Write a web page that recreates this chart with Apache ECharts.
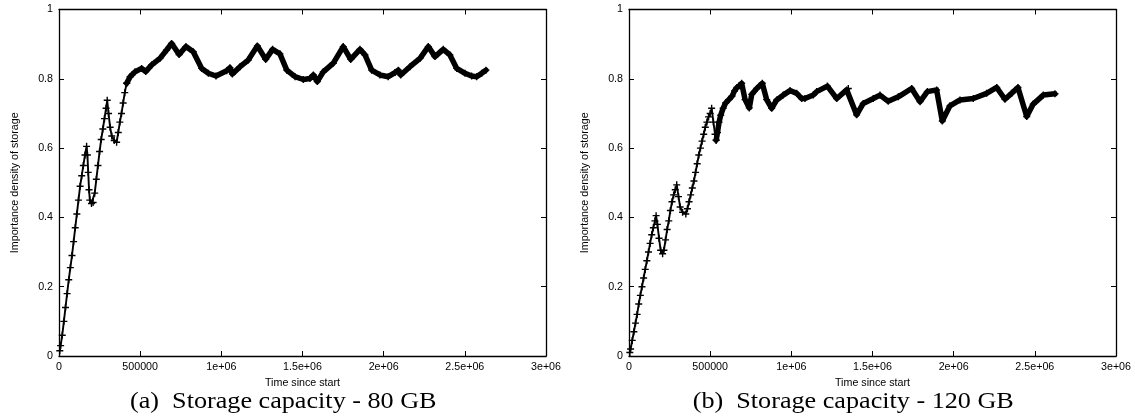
<!DOCTYPE html>
<html>
<head>
<meta charset="utf-8">
<script src="https://cdn.jsdelivr.net/npm/echarts@6/dist/echarts.min.js"></script>
<style>
html,body{margin:0;padding:0;background:#fff;}
#chart{width:1135px;height:417px;}
</style>
</head>
<body>
<div id="chart"></div>
<script>
// ---- data ----
const xTickLabels = ['0','500000','1e+06','1.5e+06','2e+06','2.5e+06','3e+06'];
const yTickLabels = ['0','0.2','0.4','0.6','0.8','1'];
const xAxisName = 'Time since start';
const yAxisName = 'Importance density of storage';
const captionA = '(a)  Storage capacity - 80 GB';
const captionB = '(b)  Storage capacity - 120 GB';

// (a) 80 GB
const timeA = [5000,10000,20000,30000,40000,50000,60000,70000,80000,90000,100000,110000,120000,130000,140000,150000,160000,170000,175000,180000,185000,190000,200000,210000,220000,230000,240000,250000,260000,270000,280000,290000,297000,305000,315000,325000,340000,355000,365000,375000,385000,395000,405000,417000,438000,468000,509000,534000,571000,622000,663000,694000,740000,782000,827000,879000,920000,967000,1033000,1053000,1068000,1115000,1166000,1222000,1273000,1316000,1361000,1403000,1454000,1505000,1546000,1567000,1591000,1628000,1690000,1751000,1797000,1854000,1885000,1926000,1977000,2028000,2070000,2090000,2105000,2162000,2224000,2275000,2316000,2367000,2408000,2450000,2501000,2542000,2573000,2604000,2630000];
const densityA = [0.015,0.03,0.06,0.10,0.14,0.18,0.22,0.255,0.29,0.33,0.37,0.41,0.45,0.49,0.52,0.55,0.58,0.605,0.58,0.53,0.48,0.45,0.44,0.443,0.47,0.51,0.55,0.59,0.625,0.655,0.685,0.715,0.738,0.70,0.66,0.635,0.622,0.617,0.645,0.675,0.70,0.73,0.76,0.787,0.806,0.82,0.83,0.821,0.84,0.859,0.883,0.902,0.87,0.893,0.878,0.83,0.816,0.808,0.823,0.832,0.814,0.835,0.854,0.895,0.856,0.885,0.872,0.825,0.806,0.798,0.801,0.811,0.792,0.82,0.845,0.893,0.856,0.885,0.869,0.825,0.811,0.806,0.818,0.825,0.811,0.835,0.859,0.893,0.864,0.885,0.869,0.83,0.816,0.808,0.806,0.816,0.825];

// (b) 120 GB
const timeB = [5000,10000,20000,30000,40000,50000,60000,70000,80000,90000,100000,110000,120000,130000,140000,150000,160000,167000,175000,185000,195000,207000,215000,225000,235000,245000,255000,265000,275000,285000,294000,305000,315000,330000,350000,360000,370000,380000,390000,400000,410000,420000,430000,440000,450000,460000,470000,480000,490000,500000,509000,520000,530000,537000,545000,555000,565000,580000,595000,615000,635000,650000,665000,680000,694000,715000,741000,756000,787000,821000,848000,879000,910000,950000,992000,1033000,1064000,1084000,1135000,1156000,1222000,1280000,1341000,1351000,1402000,1443000,1505000,1546000,1597000,1659000,1741000,1793000,1838000,1895000,1930000,1977000,2039000,2121000,2203000,2265000,2316000,2357000,2396000,2450000,2490000,2552000,2624000];
const densityB = [0.01,0.02,0.045,0.07,0.095,0.12,0.15,0.175,0.20,0.225,0.25,0.275,0.30,0.325,0.35,0.37,0.39,0.405,0.38,0.34,0.305,0.295,0.305,0.335,0.365,0.39,0.42,0.445,0.465,0.48,0.494,0.46,0.43,0.415,0.41,0.425,0.445,0.465,0.485,0.505,0.53,0.555,0.58,0.60,0.62,0.64,0.66,0.675,0.69,0.70,0.715,0.675,0.64,0.623,0.645,0.675,0.695,0.715,0.73,0.74,0.75,0.765,0.775,0.78,0.787,0.74,0.716,0.755,0.772,0.787,0.74,0.715,0.739,0.753,0.766,0.758,0.743,0.743,0.753,0.763,0.779,0.743,0.768,0.772,0.696,0.729,0.743,0.753,0.735,0.748,0.772,0.734,0.763,0.768,0.678,0.722,0.739,0.743,0.758,0.775,0.741,0.758,0.775,0.691,0.727,0.753,0.757];

// ---- build chart ----
const splitA = 417000, splitB = 537000;
const plusPath = 'path://M4,0h2v4h4v2h-4v4h-2v-4h-4v-2h4z';
const FS = 10.7;
const sans = '"Liberation Sans", Arial, Helvetica, sans-serif';

function pairs(ts, vs) { return ts.map((t, i) => [t, vs[i]]); }

const grids = [
  {left: 59, top: 9.5, width: 487, height: 346.5},
  {left: 629, top: 9.5, width: 487, height: 346.5}
];

const xAxes = [], yAxes = [], series = [];
grids.forEach((g, gi) => {
  const lineStyle = {color: '#000', width: 1.3};
  xAxes.push({
    gridIndex: gi, type: 'value', min: 0, max: 3000000, interval: 500000,
    axisLine: {onZero: false, lineStyle},
    axisTick: {inside: true, length: 5, lineStyle: {color: '#000', width: 1}},
    axisLabel: {margin: 6, fontSize: FS, color: '#000', fontFamily: sans,
      formatter: v => xTickLabels[Math.round(v / 500000)]},
    splitLine: {show: false},
    name: xAxisName, nameLocation: 'middle', nameGap: 21,
    nameTextStyle: {fontSize: FS, color: '#000', fontFamily: sans}
  });
  xAxes.push({
    gridIndex: gi, type: 'value', position: 'top', min: 0, max: 3000000, interval: 500000,
    axisLine: {onZero: false, lineStyle},
    axisTick: {inside: true, length: 5, lineStyle: {color: '#000', width: 1}},
    axisLabel: {show: false}, splitLine: {show: false}
  });
  yAxes.push({
    gridIndex: gi, type: 'value', min: 0, max: 1, interval: 0.2,
    axisLine: {onZero: false, lineStyle},
    axisTick: {inside: true, length: 5, lineStyle: {color: '#000', width: 1}},
    axisLabel: {margin: 6, fontSize: FS, color: '#000', fontFamily: sans,
      formatter: v => yTickLabels[Math.round(v / 0.2)]},
    splitLine: {show: false},
    name: yAxisName, nameLocation: 'middle', nameGap: 38, nameRotate: 90,
    nameTextStyle: {fontSize: FS, color: '#000', fontFamily: sans}
  });
  yAxes.push({
    gridIndex: gi, type: 'value', position: 'right', min: 0, max: 1, interval: 0.2,
    axisLine: {onZero: false, lineStyle},
    axisTick: {inside: true, length: 5, lineStyle: {color: '#000', width: 1}},
    axisLabel: {show: false}, splitLine: {show: false}
  });
});

function addSeries(gi, ts, vs, split) {
  const all = pairs(ts, vs);
  const rise = all.filter(p => p[0] <= split);
  const band = all.filter(p => p[0] >= split);
  series.push({
    type: 'line', xAxisIndex: gi * 2, yAxisIndex: gi * 2, data: rise,
    symbol: plusPath, symbolSize: 7, showAllSymbol: true, showSymbol: true,
    itemStyle: {color: '#000'}, lineStyle: {color: '#000', width: 1.9},
    animation: false, silent: true
  });
  series.push({
    type: 'line', xAxisIndex: gi * 2, yAxisIndex: gi * 2, data: band,
    symbol: plusPath, symbolSize: 7, showAllSymbol: true, showSymbol: true,
    itemStyle: {color: '#000'}, lineStyle: {color: '#000', width: 5.5, join: 'round', cap: 'round'},
    animation: false, silent: true
  });
}
addSeries(0, timeA, densityA, splitA);
addSeries(1, timeB, densityB, splitB);

const chart = echarts.init(document.getElementById('chart'), null, {renderer: 'canvas'});
chart.setOption({
  backgroundColor: '#fff',
  animation: false,
  grid: grids,
  xAxis: xAxes,
  yAxis: yAxes,
  series: series,
  graphic: [
    {type: 'text', x: 130, y: 402, scaleX: 1.09,
     style: {text: captionA, font: '24px "Liberation Serif", "Times New Roman", serif', fill: '#000',
       align: 'left', verticalAlign: 'middle', textAlign: 'left', textVerticalAlign: 'middle'}},
    {type: 'text', x: 692.7, y: 402, scaleX: 1.09,
     style: {text: captionB, font: '24px "Liberation Serif", "Times New Roman", serif', fill: '#000',
       align: 'left', verticalAlign: 'middle', textAlign: 'left', textVerticalAlign: 'middle'}}
  ]
});
</script>
</body>
</html>
